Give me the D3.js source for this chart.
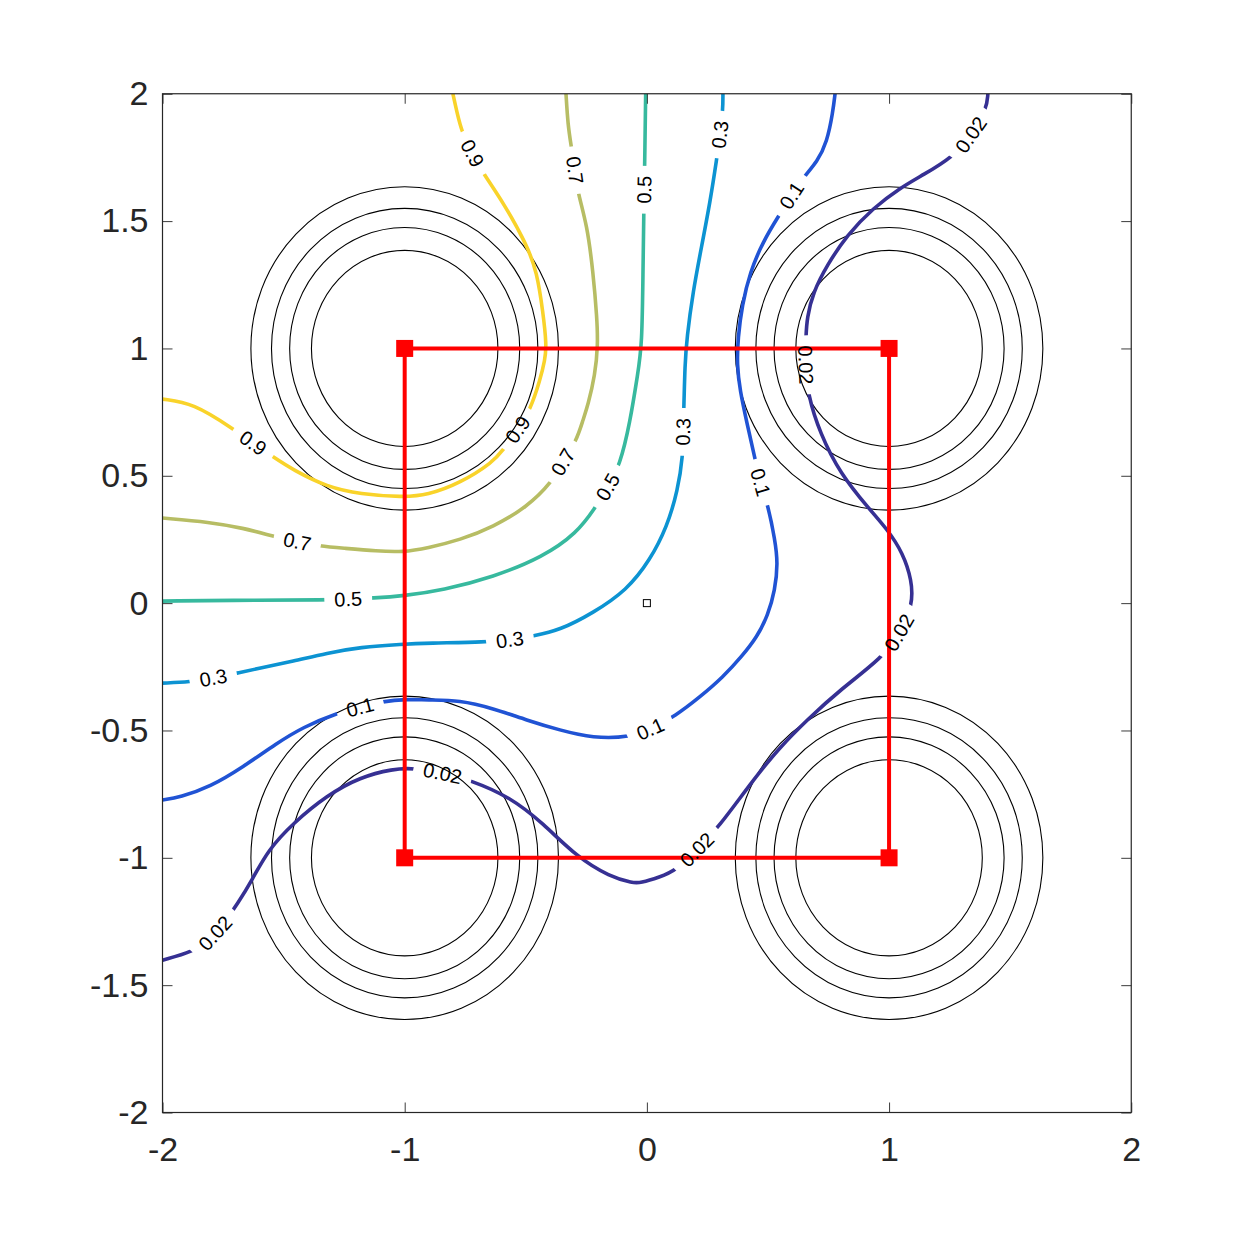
<!DOCTYPE html>
<html>
<head>
<meta charset="utf-8">
<script src="https://cdn.jsdelivr.net/npm/d3@7"></script>
<style>
  body { margin: 0; background: #fff; }
  text { font-family: "Liberation Sans", Arial, Helvetica, sans-serif; }
</style>
</head>
<body>
<svg id="chart" width="1250" height="1250"></svg>
<script>
// ---------------- DATA ----------------
const xTicks = [-2, -1, 0, 1, 2];
const yTicks = [-2, -1.5, -1, -0.5, 0, 0.5, 1, 1.5, 2];

const levels = [0.02, 0.1, 0.3, 0.5, 0.7, 0.9];
const levelColors = ["#363093", "#2053D4", "#0C93D2", "#37B99E", "#B7BD64", "#F9D32A"];

// contour polylines, data coordinates [x, y]
const contour090 = [[-0.801,2.0],[-0.784,1.926],[-0.763,1.847],[-0.722,1.767],[-0.677,1.689],[-0.594,1.575],[-0.495,1.406],[-0.454,1.300],[-0.429,1.143],[-0.414,1.013],[-0.421,0.954],[-0.441,0.876],[-0.482,0.758],[-0.532,0.680],[-0.594,0.601],[-0.635,0.554],[-0.771,0.471],[-0.907,0.424],[-1.007,0.416],[-1.184,0.428],[-1.320,0.456],[-1.461,0.523],[-1.543,0.574],[-1.626,0.628],[-1.708,0.684],[-1.874,0.786],[-2.0,0.801]];
const contour070 = [[-0.334,2.0],[-0.326,1.877],[-0.313,1.798],[-0.297,1.700],[-0.285,1.610],[-0.247,1.485],[-0.222,1.300],[-0.206,1.119],[-0.202,1.013],[-0.214,0.896],[-0.243,0.778],[-0.264,0.719],[-0.289,0.641],[-0.347,0.554],[-0.392,0.475],[-0.495,0.377],[-0.635,0.299],[-0.771,0.248],[-0.907,0.216],[-1.007,0.200],[-1.114,0.204],[-1.255,0.216],[-1.350,0.224],[-1.445,0.240],[-1.544,0.263],[-1.668,0.295],[-1.804,0.318],[-2.0,0.334]];
const contour050 = [[-0.005,2.0],[-0.009,1.720],[-0.013,1.523],[-0.016,1.300],[-0.020,1.013],[-0.037,0.904],[-0.070,0.707],[-0.111,0.542],[-0.161,0.456],[-0.214,0.373],[-0.289,0.275],[-0.429,0.181],[-0.635,0.102],[-0.842,0.051],[-1.007,0.028],[-1.131,0.020],[-1.234,0.016],[-1.329,0.012],[-1.597,0.012],[-2.0,0.008]];
const contour030 = [[0.314,2.0],[0.314,1.936],[0.302,1.838],[0.289,1.748],[0.261,1.575],[0.227,1.406],[0.190,1.221],[0.165,1.041],[0.157,0.935],[0.153,0.770],[0.149,0.672],[0.149,0.581],[0.128,0.444],[0.083,0.299],[0.013,0.169],[-0.082,0.051],[-0.223,-0.039],[-0.359,-0.106],[-0.470,-0.129],[-0.565,-0.145],[-0.660,-0.153],[-0.908,-0.157],[-1.007,-0.161],[-1.184,-0.173],[-1.320,-0.196],[-1.461,-0.228],[-1.597,-0.255],[-1.692,-0.275],[-1.791,-0.294],[-1.886,-0.310],[-2.0,-0.314]];
const contour010 = [[0.777,2.0],[0.768,1.928],[0.744,1.810],[0.702,1.731],[0.653,1.680],[0.599,1.602],[0.541,1.516],[0.479,1.418],[0.426,1.300],[0.393,1.170],[0.376,1.041],[0.372,0.935],[0.384,0.837],[0.413,0.707],[0.446,0.570],[0.467,0.475],[0.500,0.385],[0.529,0.248],[0.541,0.157],[0.529,0.051],[0.500,-0.047],[0.455,-0.133],[0.393,-0.208],[0.314,-0.291],[0.219,-0.369],[0.116,-0.444],[0.025,-0.491],[-0.070,-0.527],[-0.223,-0.530],[-0.359,-0.499],[-0.495,-0.460],[-0.636,-0.413],[-0.772,-0.381],[-0.908,-0.381],[-0.991,-0.377],[-1.090,-0.385],[-1.185,-0.409],[-1.280,-0.432],[-1.420,-0.487],[-1.528,-0.550],[-1.668,-0.644],[-1.804,-0.722],[-1.928,-0.762],[-2.0,-0.773]];
const contour002 = [[1.408,2.0],[1.404,1.944],[1.342,1.838],[1.264,1.752],[1.140,1.681],[1.045,1.630],[0.934,1.551],[0.826,1.445],[0.744,1.327],[0.686,1.220],[0.661,1.118],[0.657,1.052],[0.653,0.942],[0.665,0.816],[0.715,0.667],[0.797,0.510],[0.921,0.366],[0.995,0.287],[1.057,0.197],[1.094,0.090],[1.098,-0.007],[1.045,-0.118],[0.975,-0.212],[0.797,-0.341],[0.661,-0.459],[0.550,-0.565],[0.438,-0.695],[0.294,-0.883],[0.207,-0.969],[0.116,-1.052],[0.054,-1.075],[-0.028,-1.099],[-0.057,-1.099],[-0.152,-1.075],[-0.289,-0.997],[-0.429,-0.864],[-0.565,-0.761],[-0.731,-0.694],[-0.842,-0.667],[-0.966,-0.647],[-1.048,-0.651],[-1.184,-0.683],[-1.320,-0.754],[-1.461,-0.864],[-1.564,-0.969],[-1.630,-1.087],[-1.688,-1.177],[-1.742,-1.252],[-1.804,-1.322],[-1.874,-1.369],[-2.0,-1.402]];

// contour label anchors (level, x, y)
const labelLevels = [0.9, 0.9, 0.9, 0.7, 0.7, 0.7, 0.5, 0.5, 0.5, 0.3, 0.3, 0.3, 0.3, 0.1, 0.1, 0.1, 0.1, 0.02, 0.02, 0.02, 0.02, 0.02, 0.02];
const labelX = [-0.722, -0.532, -1.626, -0.297, -0.347, -1.445, -0.012, -0.161, -1.234, 0.302, 0.149, -0.565, -1.791, 0.599, 0.467, 0.013, -1.185, 1.342, 0.653, 1.045, 0.207, -0.842, -1.783];
const labelY = [1.767, 0.680, 0.628, 1.700, 0.554, 0.240, 1.625, 0.456, 0.016, 1.838, 0.672, -0.145, -0.294, 1.602, 0.475, -0.494, -0.409, 1.838, 0.934, -0.118, -0.969, -0.667, -1.296];

// concentric circles
const circleCenterX = [-1, 1, -1, 1];
const circleCenterY = [1, 1, -1, -1];
const circleRadii = [0.385, 0.475, 0.55, 0.635];

// red square path with corner markers
const squareX = [-1, 1, 1, -1, -1];
const squareY = [-1, -1, 1, 1, -1];

// small marker at origin
const originX = [0];
const originY = [0];

// ---------------- DRAW ----------------
const W = 1250, H = 1250;
const x = d3.scaleLinear().domain([-2, 2]).range([162.5, 1131.25]);
const y = d3.scaleLinear().domain([-2, 2]).range([1112.5, 93.75]);
const color = d3.scaleOrdinal().domain(levels).range(levelColors);

const svg = d3.select("#chart");
svg.append("rect").attr("width", W).attr("height", H).attr("fill", "#fff");
const defs = svg.append("defs");
defs.append("clipPath").attr("id", "plotclip").append("rect")
  .attr("x", x(-2)).attr("y", y(2)).attr("width", x(2) - x(-2)).attr("height", y(-2) - y(2));

// circles
const circG = svg.append("g").attr("clip-path", "url(#plotclip)");
circleCenterX.forEach((cx, i) => {
  circleRadii.forEach(r => {
    circG.append("ellipse")
      .attr("cx", x(cx)).attr("cy", y(circleCenterY[i]))
      .attr("rx", x(r) - x(0)).attr("ry", y(0) - y(r))
      .attr("fill", "none").attr("stroke", "#000").attr("stroke-width", 1.1);
  });
});

// contours
const contours = [
  { level: 0.02, pts: contour002 },
  { level: 0.1, pts: contour010 },
  { level: 0.3, pts: contour030 },
  { level: 0.5, pts: contour050 },
  { level: 0.7, pts: contour070 },
  { level: 0.9, pts: contour090 }
];
const mask = defs.append("mask").attr("id", "labelmask")
  .attr("maskUnits", "userSpaceOnUse").attr("x", 0).attr("y", 0).attr("width", W).attr("height", H);
mask.append("rect").attr("width", W).attr("height", H).attr("fill", "#fff");

const contG = svg.append("g").attr("clip-path", "url(#plotclip)");
const lineG = contG.append("g").attr("mask", "url(#labelmask)");
const line = d3.line().x(d => x(d[0])).y(d => y(d[1])).curve(d3.curveBasis);
const paths = {};
contours.forEach(c => {
  paths[c.level] = lineG.append("path").datum(c.pts).attr("d", line)
    .attr("fill", "none").attr("stroke", color(c.level))
    .attr("stroke-width", 3.6).attr("stroke-linejoin", "round");
});

// red square
const sq = d3.zip(squareX, squareY);
svg.append("path").datum(sq)
  .attr("d", d3.line().x(d => x(d[0])).y(d => y(d[1])))
  .attr("fill", "none").attr("stroke", "#ff0000").attr("stroke-width", 4);
svg.append("g").selectAll("rect").data(sq.slice(0, 4)).join("rect")
  .attr("x", d => x(d[0]) - 8.5).attr("y", d => y(d[1]) - 8.5)
  .attr("width", 17).attr("height", 17).attr("fill", "#ff0000");

// origin marker
svg.append("g").selectAll("rect").data(d3.zip(originX, originY)).join("rect")
  .attr("x", d => x(d[0]) - 3.5).attr("y", d => y(d[1]) - 3.5)
  .attr("width", 7).attr("height", 7).attr("fill", "none").attr("stroke", "#000").attr("stroke-width", 1);

// contour labels
const labG = svg.append("g");
labelLevels.forEach((lev, i) => {
  const p = paths[lev].node();
  const total = p.getTotalLength();
  const tx = x(labelX[i]), ty = y(labelY[i]);
  let best = 0, bd = Infinity;
  for (let s = 0; s <= total; s += 1) {
    const pt = p.getPointAtLength(s);
    const d = (pt.x - tx) ** 2 + (pt.y - ty) ** 2;
    if (d < bd) { bd = d; best = s; }
  }
  const a = p.getPointAtLength(Math.max(0, best - 8));
  const b = p.getPointAtLength(Math.min(total, best + 8));
  let ang = Math.atan2(b.y - a.y, b.x - a.x) * 180 / Math.PI;
  if (ang > 90) ang -= 180;
  if (ang <= -90) ang += 180;
  const c = p.getPointAtLength(best);
  const tr = `translate(${c.x},${c.y}) rotate(${ang})`;
  const t = labG.append("text").attr("transform", tr)
    .attr("text-anchor", "middle").attr("dy", "0.35em")
    .attr("font-size", 20).attr("fill", "#000").text(String(lev));
  const w = t.node().getComputedTextLength();
  mask.append("rect").attr("transform", tr)
    .attr("x", -w / 2 - 10).attr("y", -10).attr("width", w + 20).attr("height", 20)
    .attr("fill", "#000");
});

// axes
const fmt = d => String(d);
const axCol = "#262626";
function styleAxis(g) {
  g.select(".domain").remove();
  g.selectAll(".tick line").attr("stroke", axCol).attr("stroke-width", 0.9);
  g.selectAll(".tick text").attr("fill", axCol).attr("font-size", 34)
    .attr("font-family", "'Liberation Sans', Arial, Helvetica, sans-serif");
}
svg.append("g").attr("transform", `translate(0,${y(-2)})`)
  .call(d3.axisBottom(x).tickValues(xTicks).tickSizeInner(-10).tickSizeOuter(0).tickPadding(24).tickFormat(fmt))
  .call(styleAxis);
svg.append("g").attr("transform", `translate(0,${y(2)})`)
  .call(d3.axisTop(x).tickValues(xTicks).tickSizeInner(-10).tickSizeOuter(0).tickFormat(""))
  .call(styleAxis);
svg.append("g").attr("transform", `translate(${x(-2)},0)`)
  .call(d3.axisLeft(y).tickValues(yTicks).tickSizeInner(-10).tickSizeOuter(0).tickPadding(14).tickFormat(fmt))
  .call(styleAxis);
svg.append("g").attr("transform", `translate(${x(2)},0)`)
  .call(d3.axisRight(y).tickValues(yTicks).tickSizeInner(-10).tickSizeOuter(0).tickFormat(""))
  .call(styleAxis);

svg.append("rect")
  .attr("x", x(-2)).attr("y", y(2)).attr("width", x(2) - x(-2)).attr("height", y(-2) - y(2))
  .attr("fill", "none").attr("stroke", axCol).attr("stroke-width", 1.2);
</script>
</body>
</html>
